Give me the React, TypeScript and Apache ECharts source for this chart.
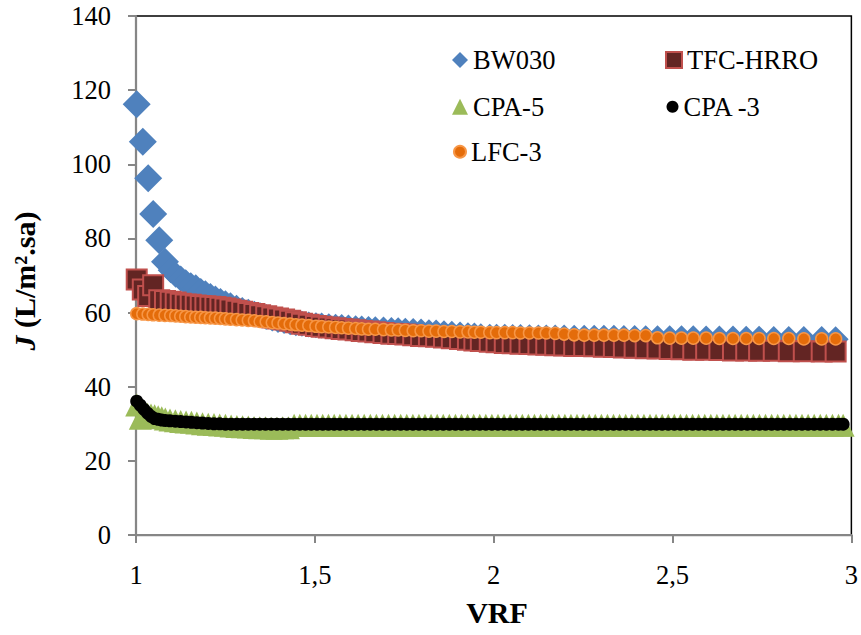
import React, { useEffect, useRef } from "react";
import * as echarts from "echarts";

// VRF positions of the BW030, TFC-HRRO and LFC-3 points
const vrf = [
  1.002, 1.019, 1.034, 1.048, 1.065, 1.081, 1.097, 1.111, 1.125, 1.139,
  1.153, 1.167, 1.181, 1.194, 1.208, 1.222, 1.236, 1.25, 1.264, 1.281,
  1.297, 1.314, 1.331, 1.347, 1.364, 1.381, 1.397, 1.414, 1.431, 1.447,
  1.464, 1.483, 1.503, 1.519, 1.539, 1.558, 1.575, 1.594, 1.614, 1.631,
  1.65, 1.669, 1.692, 1.714, 1.733, 1.753, 1.775, 1.797, 1.819, 1.839,
  1.861, 1.883, 1.906, 1.928, 1.946, 1.964, 1.989, 2.008, 2.031, 2.053,
  2.075, 2.1, 2.125, 2.147, 2.172, 2.197, 2.225, 2.253, 2.281, 2.308,
  2.336, 2.364, 2.394, 2.425, 2.458, 2.492, 2.525, 2.558, 2.594, 2.631,
  2.669, 2.706, 2.742, 2.783, 2.825, 2.867, 2.917, 2.956,
];

const jBW030 = [
  116.2, 106.1, 96.2, 86.6, 79.5, 73.7, 71.4, 70.2, 69.2, 68.2,
  67.4, 66.8, 65.8, 65.2, 64.5, 63.8, 63.1, 62.5, 62.0, 61.3,
  60.7, 60.2, 59.7, 59.3, 58.8, 58.4, 58.0, 57.7, 57.4, 57.1,
  57.0, 56.8, 56.6, 56.5, 56.3, 56.2, 56.1, 56.0, 55.8, 55.7,
  55.6, 55.5, 55.4, 55.3, 55.2, 55.1, 55.0, 54.9, 54.7, 54.6,
  54.4, 54.3, 54.1, 53.9, 53.8, 53.6, 53.5, 53.5, 53.45, 53.4,
  53.4, 53.35, 53.3, 53.3, 53.3, 53.25, 53.2, 53.2, 53.2, 53.2,
  53.2, 53.15, 53.15, 53.1, 53.1, 53.1, 53.05, 53.05, 53.0, 53.0,
  53.0, 52.95, 52.95, 52.9, 52.9, 52.9, 52.85, 52.8,
];

const jTFC = [
  68.9, 66.2, 64.5, 67.4, 63.3, 63.1, 62.9, 62.7, 62.4, 62.2,
  62.1, 61.9, 61.8, 61.7, 61.6, 61.5, 61.3, 61.1, 60.8, 60.5,
  60.2, 59.9, 59.6, 59.3, 59.0, 58.7, 58.4, 58.1, 57.8, 57.4,
  57.0, 56.7, 56.4, 56.2, 56.0, 55.8, 55.6, 55.4, 55.2, 55.0,
  54.9, 54.7, 54.5, 54.3, 54.2, 54.1, 53.9, 53.7, 53.6, 53.5,
  53.3, 53.1, 52.9, 52.7, 52.5, 52.3, 52.1, 52.0, 51.8, 51.7,
  51.6, 51.5, 51.4, 51.3, 51.2, 51.1, 51.0, 51.0, 50.9, 50.8,
  50.7, 50.6, 50.5, 50.4, 50.3, 50.2, 50.1, 50.0, 50.0, 49.9,
  49.8, 49.8, 49.7, 49.7, 49.6, 49.6, 49.5, 49.5,
];

const jLFC3 = [
  59.7, 59.6, 59.5, 59.4, 59.3, 59.25, 59.2, 59.1, 59.0, 58.9,
  58.8, 58.75, 58.7, 58.6, 58.55, 58.5, 58.4, 58.3, 58.2, 58.1,
  58.0, 57.9, 57.8, 57.6, 57.5, 57.3, 57.2, 57.0, 56.9, 56.7,
  56.6, 56.5, 56.3, 56.2, 56.1, 56.0, 55.9, 55.8, 55.7, 55.6,
  55.5, 55.5, 55.4, 55.3, 55.3, 55.2, 55.1, 55.1, 55.0, 55.0,
  54.9, 54.9, 54.8, 54.8, 54.7, 54.7, 54.6, 54.6, 54.6, 54.6,
  54.5, 54.5, 54.5, 54.5, 54.4, 54.2, 54.0, 53.9, 53.9, 53.9,
  53.9, 53.9, 53.8, 53.8, 53.2, 53.1, 53.1, 53.1, 53.1, 53.0,
  53.0, 53.0, 53.0, 53.0, 53.0, 52.9, 52.9, 52.9,
];

// VRF positions of the (denser) CPA-5 and CPA -3 points
const vrfCPA = [
  1.002, 1.012, 1.022, 1.032, 1.042, 1.052, 1.062, 1.072, 1.082, 1.095,
  1.11, 1.125, 1.14, 1.155, 1.17, 1.186, 1.202, 1.218, 1.234, 1.25,
  1.266, 1.282, 1.298, 1.314, 1.33, 1.346, 1.362, 1.378, 1.394, 1.41,
  1.426, 1.442, 1.458, 1.474, 1.49, 1.506, 1.522, 1.538, 1.554, 1.57,
  1.587, 1.604, 1.621, 1.638, 1.655, 1.672, 1.689, 1.706, 1.723, 1.74,
  1.757, 1.774, 1.791, 1.808, 1.825, 1.842, 1.859, 1.876, 1.893, 1.91,
  1.927, 1.944, 1.961, 1.978, 1.995, 2.012, 2.029, 2.046, 2.063, 2.08,
  2.097, 2.114, 2.131, 2.148, 2.165, 2.182, 2.199, 2.216, 2.233, 2.25,
  2.267, 2.284, 2.301, 2.318, 2.335, 2.352, 2.369, 2.386, 2.403, 2.42,
  2.437, 2.454, 2.471, 2.488, 2.505, 2.522, 2.539, 2.556, 2.573, 2.59,
  2.607, 2.624, 2.641, 2.658, 2.675, 2.692, 2.709, 2.726, 2.743, 2.76,
  2.777, 2.794, 2.811, 2.828, 2.845, 2.862, 2.879, 2.896, 2.913, 2.93,
  2.947, 2.964, 2.977,
];

const jCPA5 = [
  35.1, 31.5, 32.8, 32.6, 32.4, 32.2, 31.9, 31.6, 31.3, 31.0,
  30.8, 30.6, 30.5, 30.4, 30.2, 30.0, 29.9, 29.8, 29.7, 29.6,
  29.4, 29.3, 29.2, 29.1, 29.0, 28.9, 28.9, 28.8, 28.8, 28.9,
  28.9, 29.6, 29.6, 29.6, 29.6, 29.6, 29.6, 29.6, 29.6, 29.6,
  29.6, 29.6, 29.6, 29.6, 29.6, 29.6, 29.6, 29.6, 29.6, 29.6,
  29.6, 29.6, 29.6, 29.6, 29.6, 29.6, 29.6, 29.6, 29.6, 29.6,
  29.6, 29.6, 29.6, 29.6, 29.6, 29.6, 29.6, 29.6, 29.6, 29.6,
  29.6, 29.6, 29.6, 29.6, 29.6, 29.6, 29.6, 29.6, 29.6, 29.6,
  29.6, 29.6, 29.6, 29.6, 29.6, 29.6, 29.6, 29.6, 29.6, 29.6,
  29.6, 29.6, 29.6, 29.6, 29.6, 29.6, 29.6, 29.6, 29.6, 29.6,
  29.6, 29.6, 29.6, 29.6, 29.6, 29.6, 29.6, 29.6, 29.6, 29.6,
  29.6, 29.6, 29.6, 29.6, 29.6, 29.6, 29.6, 29.6, 29.6, 29.6,
  29.6, 29.6, 29.6,
];

const jCPA3 = [
  36.1, 35.0, 33.9, 32.9, 32.0, 31.4, 31.2, 31.0, 30.9, 30.8,
  30.7, 30.6, 30.5, 30.4, 30.3, 30.2, 30.1, 30.0, 30.0, 29.9,
  29.9, 29.9, 29.9, 29.9, 29.9, 29.9, 29.9, 29.9, 29.9, 29.9,
  29.9, 29.9, 29.9, 29.9, 29.9, 29.9, 29.9, 29.9, 29.9, 29.9,
  29.9, 29.9, 29.9, 29.9, 29.9, 29.9, 29.9, 29.9, 29.9, 29.9,
  29.9, 29.9, 29.9, 29.9, 29.9, 29.9, 29.9, 29.9, 29.9, 29.9,
  29.9, 29.9, 29.9, 29.9, 29.9, 29.9, 29.9, 29.9, 29.9, 29.9,
  29.9, 29.9, 29.9, 29.9, 29.9, 29.9, 29.9, 29.9, 29.9, 29.9,
  29.9, 29.9, 29.9, 29.9, 29.9, 29.9, 29.9, 29.9, 29.9, 29.9,
  29.9, 29.9, 29.9, 29.9, 29.9, 29.9, 29.9, 29.9, 29.9, 29.9,
  29.9, 29.9, 29.9, 29.9, 29.9, 29.9, 29.9, 29.9, 29.9, 29.9,
  29.9, 29.9, 29.9, 29.9, 29.9, 29.9, 29.9, 29.9, 29.9, 29.9,
  29.9, 29.9, 29.9,
];

const seriesNames = ["BW030", "TFC-HRRO", "CPA-5", "CPA -3", "LFC-3"];
const xTicks = { min: 1, max: 3, interval: 0.5 };
const yTicks = { min: 0, max: 140, interval: 20 };

const FONT = "Liberation Serif, Tinos, Times New Roman, DejaVu Serif, serif";

function pairs(xs: number[], ys: number[]) {
  return ys.map((y, i) => [xs[i], y]);
}

export default function App() {
  const ref = useRef<HTMLDivElement>(null);
  useEffect(() => {
    if (!ref.current) return;
    const chart = echarts.init(ref.current, undefined, { renderer: "svg" });
    const axisLine = { lineStyle: { color: "#868686", width: 2.25 } };
    const legendCommon = {
      orient: "horizontal",
      padding: 0,
      itemGap: 0,
      selectedMode: false,
      textStyle: { fontFamily: FONT, fontSize: 26.5, color: "#000", lineHeight: 30 },
    };
    chart.setOption({
      animation: false,
      backgroundColor: "#fff",
      textStyle: { fontFamily: FONT },
      grid: {
        left: 136,
        right: 5,
        top: 16,
        bottom: 100,
        show: true,
        borderColor: "#000",
        borderWidth: 1.5,
        backgroundColor: "transparent",
      },
      xAxis: {
        type: "value",
        min: xTicks.min,
        max: xTicks.max,
        interval: xTicks.interval,
        splitLine: { show: false },
        axisLine,
        axisTick: { show: true, length: 8, lineStyle: { color: "#868686", width: 2 } },
        axisLabel: {
          margin: 26,
          fontFamily: FONT,
          fontSize: 26.5,
          color: "#000",
          formatter: (v: number) => String(v).replace(".", ","),
        },
      },
      yAxis: {
        type: "value",
        min: yTicks.min,
        max: yTicks.max,
        interval: yTicks.interval,
        splitLine: { show: false },
        axisLine: { show: true, ...axisLine },
        axisTick: { show: true, length: 8, lineStyle: { color: "#868686", width: 2 } },
        axisLabel: { margin: 25, fontFamily: FONT, fontSize: 26.5, color: "#000" },
      },
      legend: [
        { ...legendCommon, data: [seriesNames[0]], left: 452, top: 45, itemWidth: 16, itemHeight: 16 },
        { ...legendCommon, data: [seriesNames[1]], left: 665, top: 45, itemWidth: 16, itemHeight: 16 },
        { ...legendCommon, data: [seriesNames[2]], left: 452, top: 91.7, itemWidth: 16, itemHeight: 16 },
        { ...legendCommon, data: [seriesNames[3]], left: 666.5, top: 91.7, itemWidth: 12, itemHeight: 12 },
        { ...legendCommon, data: [seriesNames[4]], left: 453, top: 136.7, itemWidth: 12, itemHeight: 12 },
      ],
      graphic: [
        {
          type: "text",
          x: 497,
          y: 612,
          style: {
            text: "VRF",
            fontFamily: FONT,
            fontWeight: "bold",
            fontSize: 30,
            fill: "#000",
            align: "center",
            verticalAlign: "middle",
          },
        },
        {
          type: "text",
          x: 24,
          y: 281,
          rotation: Math.PI / 2,
          style: {
            text: "{j|J}{t| (L/m².sa)}",
            align: "center",
            verticalAlign: "middle",
            fill: "#000",
            rich: {
              j: { fontFamily: FONT, fontWeight: "bold", fontStyle: "italic", fontSize: 30, fill: "#000" },
              t: { fontFamily: FONT, fontWeight: "bold", fontSize: 30, fill: "#000" },
            },
          },
        },
      ],
      series: [
        {
          type: "scatter",
          name: seriesNames[0],
          data: pairs(vrf, jBW030),
          symbol: "diamond",
          symbolSize: (_v: any, p: any) => (p.dataIndex < 6 ? 28 : 26),
          itemStyle: { color: "#4F81BD", opacity: 1 },
          emphasis: { disabled: true },
        },
        {
          type: "scatter",
          name: seriesNames[1],
          data: pairs(vrf, jTFC),
          symbol: "rect",
          symbolSize: 20,
          itemStyle: { color: "#632523", borderColor: "#C0504D", borderWidth: 2, opacity: 1 },
          emphasis: { disabled: true },
        },
        {
          type: "scatter",
          name: seriesNames[2],
          data: pairs(vrfCPA, jCPA5),
          symbol: "triangle",
          symbolSize: 23,
          itemStyle: { color: "#9BBB59", opacity: 1 },
          emphasis: { disabled: true },
        },
        {
          type: "scatter",
          name: seriesNames[3],
          data: pairs(vrfCPA, jCPA3),
          symbol: "circle",
          symbolSize: 13,
          itemStyle: { color: "#000000", opacity: 1 },
          emphasis: { disabled: true },
        },
        {
          type: "scatter",
          name: seriesNames[4],
          data: pairs(vrf, jLFC3),
          symbol: "circle",
          symbolSize: 12,
          itemStyle: { color: "#E46C0A", borderColor: "#F79646", borderWidth: 1.5, opacity: 1 },
          emphasis: { disabled: true },
        },
      ],
    });
    return () => chart.dispose();
  }, []);
  return (
    <div
      ref={ref}
      style={{
        position: "fixed",
        left: 0,
        top: 0,
        width: 861,
        height: 635,
        fontFamily: "Liberation Serif, serif",
      }}
    />
  );
}
